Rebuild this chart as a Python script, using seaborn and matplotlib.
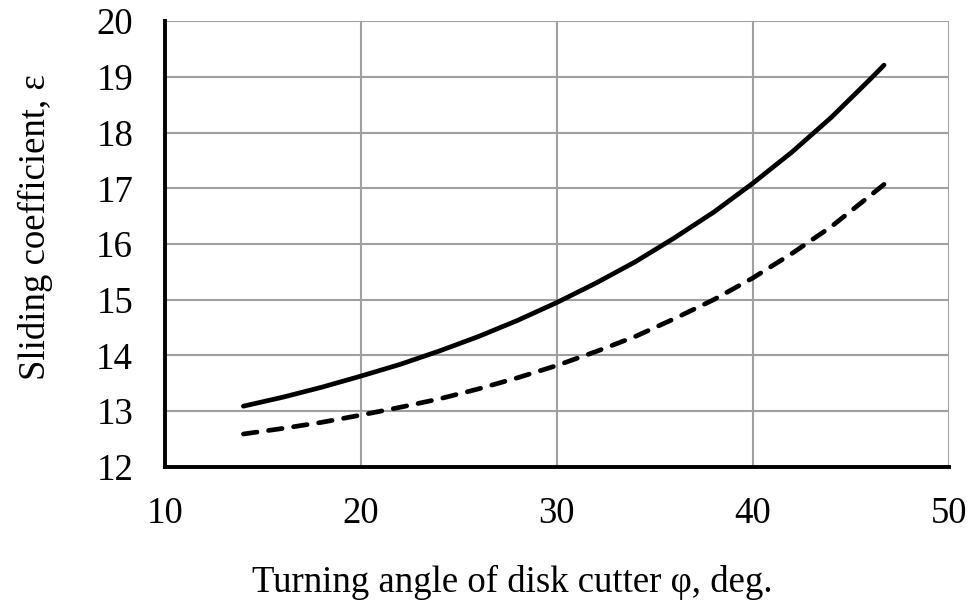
import matplotlib
matplotlib.use("Agg")
import matplotlib.pyplot as plt
import seaborn as sns
import pandas as pd
import numpy as np

angle = [14, 16, 18, 20, 22, 24, 26, 28, 30, 32, 34, 36, 38, 40, 42, 44, 46, 46.7]
solid_eps = [13.09, 13.25, 13.43, 13.63, 13.84, 14.08, 14.34, 14.63, 14.95,
             15.30, 15.68, 16.11, 16.57, 17.09, 17.65, 18.27, 18.96, 19.21]
dashed_eps = [12.59, 12.69, 12.80, 12.93, 13.07, 13.22, 13.40, 13.60, 13.82,
              14.07, 14.34, 14.66, 15.00, 15.39, 15.83, 16.31, 16.87, 17.07]

x_ticks = [10, 20, 30, 40, 50]
y_ticks = [12, 13, 14, 15, 16, 17, 18, 19, 20]

sns.set_theme(style="white")
plt.rcParams['font.family'] = ['Liberation Serif', 'DejaVu Serif']

df = pd.concat([
    pd.DataFrame({"angle": angle, "eps": solid_eps, "series": "solid"}),
    pd.DataFrame({"angle": angle, "eps": dashed_eps, "series": "dashed"}),
])

LW = 3.4
DASH, GAP = 2.9, 2.4

fig = plt.figure(figsize=(9.71, 6.04), dpi=100)
ax = fig.add_axes([0.170, 0.227, 0.807, 0.738])

sns.lineplot(data=df[df.series == "solid"], x="angle", y="eps", ax=ax,
             color="black", linewidth=LW, solid_capstyle="round")
sns.lineplot(data=df[df.series == "dashed"], x="angle", y="eps", ax=ax,
             color="black", linewidth=LW)
dline = ax.lines[-1]

ax.set_xlim(10, 50)
ax.set_ylim(12, 20)
ax.set_xticks(x_ticks)
ax.set_yticks(y_ticks)
ax.grid(True, color="#a0a0a0", linewidth=1.5)
ax.set_axisbelow(True)

for s in ["top", "right"]:
    ax.spines[s].set_visible(False)
for s in ["left", "bottom"]:
    ax.spines[s].set_color("black")
    ax.spines[s].set_linewidth(2.8)

ax.tick_params(axis="both", direction="out", length=8, width=2.8,
               color="black", labelsize=26.5, labelcolor="black")
ax.tick_params(axis="x", pad=13.5)
ax.tick_params(axis="y", pad=15)
ax.set_xlabel("Turning angle of disk cutter φ, deg.", fontsize=26.5, color="black")
ax.set_ylabel("Sliding coefficient, ε", fontsize=26.5, color="black")
ax.xaxis.set_label_coords(0.443, -0.260)
ax.yaxis.set_label_coords(-0.166, 0.537)
ax.xaxis.label.set_verticalalignment("center")
ax.yaxis.label.set_verticalalignment("center")

# stretch the gap slightly so the dashed curve both starts and ends on a dash
fig.canvas.draw()
pts = ax.transData.transform(np.column_stack([dline.get_xdata(), dline.get_ydata()]))
length_pt = np.sum(np.hypot(*np.diff(pts, axis=0).T)) * 72.0 / fig.dpi
dash_pt = DASH * LW
n = max(1, int(round((length_pt - dash_pt) / ((DASH + GAP) * LW))))
gap_units = ((length_pt - dash_pt) / n) / LW - DASH
dline.set_linestyle((0, (DASH, gap_units)))
dline.set_dash_capstyle("round")

fig.savefig("out.png", dpi=100)
